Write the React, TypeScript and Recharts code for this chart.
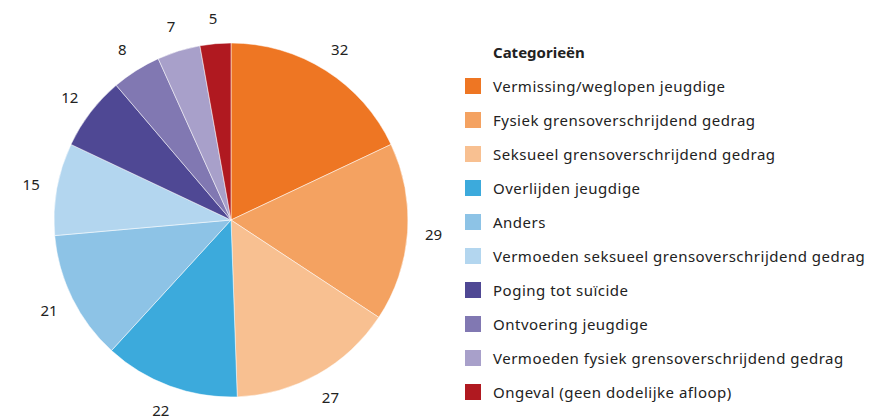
import { PieChart, Pie, Cell, Legend } from "recharts";

const categories = [
  "Vermissing/weglopen jeugdige",
  "Fysiek grensoverschrijdend gedrag",
  "Seksueel grensoverschrijdend gedrag",
  "Overlijden jeugdige",
  "Anders",
  "Vermoeden seksueel grensoverschrijdend gedrag",
  "Poging tot suïcide",
  "Ontvoering jeugdige",
  "Vermoeden fysiek grensoverschrijdend gedrag",
  "Ongeval (geen dodelijke afloop)",
];
const counts = [32, 29, 27, 22, 21, 15, 12, 8, 7, 5];
const colors = [
  "#EE7623",
  "#F4A261",
  "#F8C091",
  "#3CAADC",
  "#8DC3E6",
  "#B3D6EF",
  "#4F4894",
  "#8178B2",
  "#A8A0CA",
  "#B01920",
];

const FONT = "'Noto Sans', sans-serif";
const RAD = Math.PI / 180;

const data = categories.map((name, i) => ({ name, value: counts[i] }));

function renderLabel(p: any) {
  const r = p.outerRadius + 26;
  const x = p.cx + r * Math.cos(-p.midAngle * RAD);
  const y = p.cy + r * Math.sin(-p.midAngle * RAD);
  return (
    <text
      x={x}
      y={y}
      fill="#222"
      fontSize={15}
      fontFamily={FONT}
      textAnchor="middle"
      dominantBaseline="central"
    >
      {p.value}
    </text>
  );
}

function LegendBox() {
  return (
    <div style={{ fontFamily: FONT, color: "#222" }}>
      <div style={{ fontWeight: 700, fontSize: 15, marginLeft: 28, height: 34, lineHeight: "34px" }}>
        Categorieën
      </div>
      {data.map((d, i) => (
        <div key={d.name} style={{ display: "flex", alignItems: "center", height: 34, fontSize: 15, letterSpacing: 0.5 }}>
          <span style={{ width: 16, height: 16, background: colors[i], marginRight: 12, flexShrink: 0 }} />
          <span>{d.name}</span>
        </div>
      ))}
    </div>
  );
}

export default function App() {
  return (
    <div style={{ position: "absolute", left: 0, top: 0, background: "#fff" }}>
      <PieChart width={879} height={419} margin={{ top: 0, right: 0, bottom: 0, left: 0 }}>
        <Pie
          data={data}
          dataKey="value"
          nameKey="name"
          cx={231}
          cy={220}
          outerRadius={177}
          startAngle={90}
          endAngle={-270}
          stroke="#fff"
          strokeWidth={0.5}
          label={renderLabel}
          labelLine={false}
          isAnimationActive={false}
        >
          {data.map((d, i) => (
            <Cell key={d.name} fill={colors[i]} />
          ))}
        </Pie>
        <Legend
          layout="vertical"
          verticalAlign="top"
          align="right"
          content={() => <LegendBox />}
          wrapperStyle={{ left: 465, top: 35, width: 414 }}
        />
      </PieChart>
    </div>
  );
}
